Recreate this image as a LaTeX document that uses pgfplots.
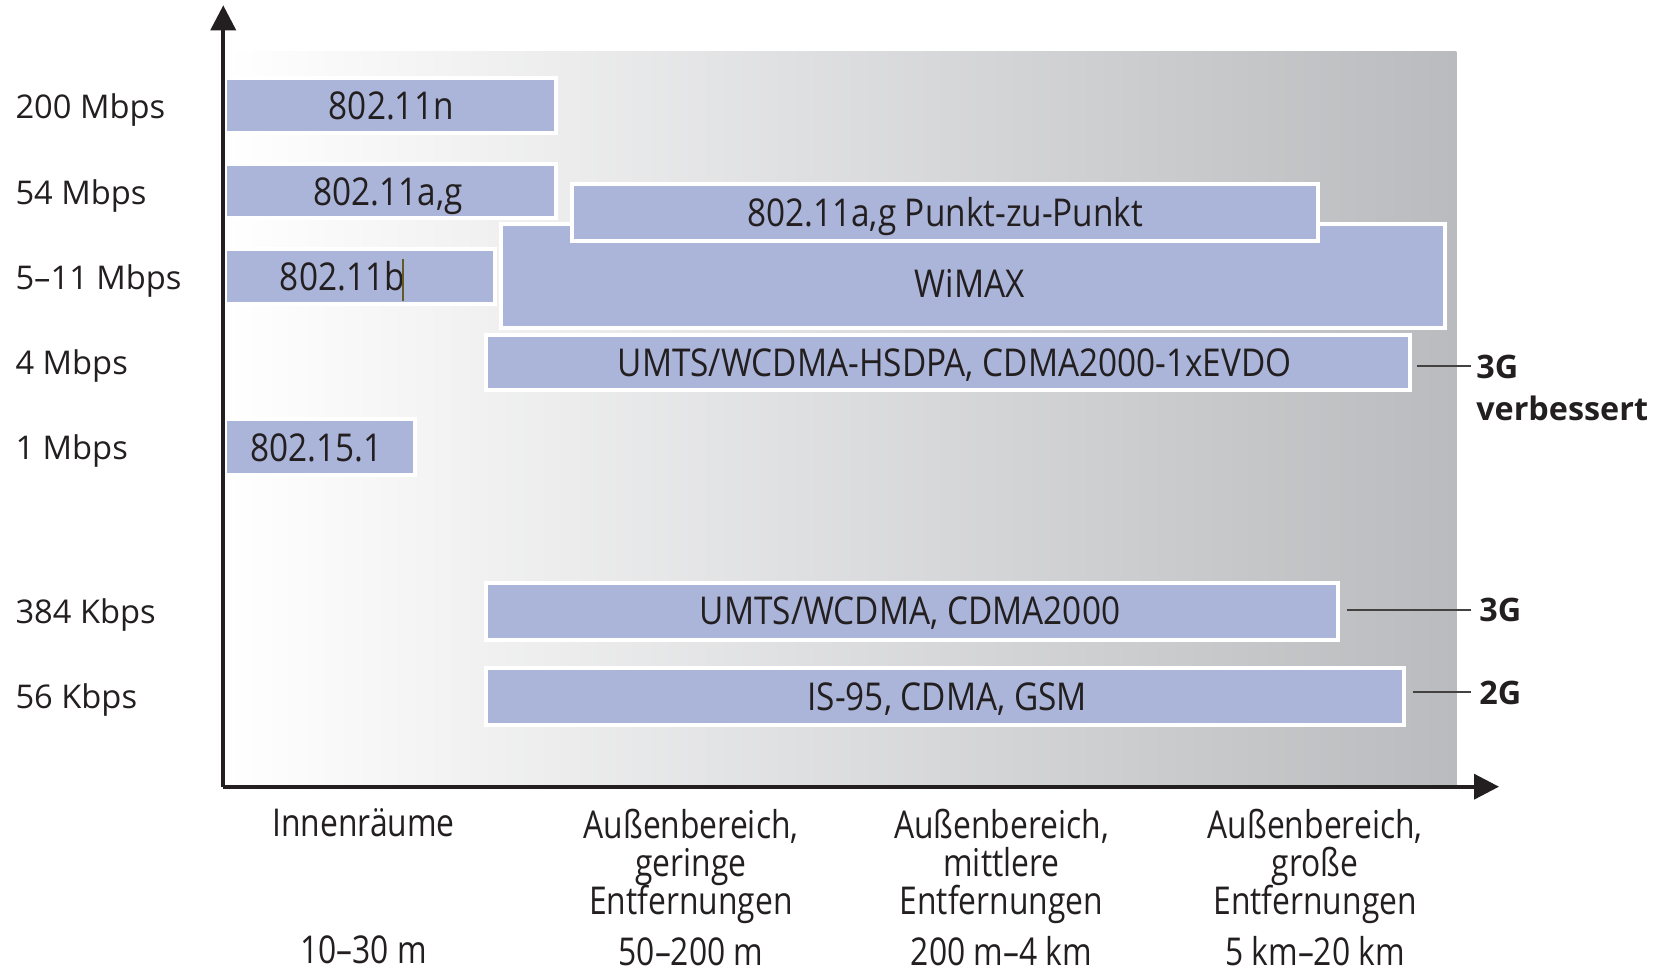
\documentclass[border=0pt]{standalone}
\usepackage{pgfplots}
\pgfplotsset{compat=1.18}
\usetikzlibrary{arrows.meta}
\usepackage{fontspec}
\setmainfont{Open Sans}
\newfontfamily\condfont[FakeStretch=0.87]{Open Sans}
\newfontfamily\xcondfont[FakeStretch=0.83]{Open Sans}
\definecolor{barblue}{RGB}{171,181,217}
\definecolor{bggray}{RGB}{186,187,190}
\definecolor{txt}{RGB}{35,31,32}
\newcommand\xlfont{\xcondfont\fontsize{11.5}{11.5}\selectfont\lineskiplimit=-20pt\relax\lineskip=0pt\relax}
\tikzset{
  barlab/.style={anchor=base, inner sep=0pt, font=\condfont\fontsize{11.5}{13}\selectfont, text=txt},
  glab/.style={anchor=base west, inner sep=0pt, font=\bfseries\fontsize{9.7}{12}\selectfont, text=txt},
}
\newcommand\bx[4]{\addplot[fill=barblue, draw=white, line width=1.2pt] coordinates {(#1,#3) (#2,#3) (#2,#4) (#1,#4)} -- cycle;}
\begin{document}
\begin{tikzpicture}
\begin{axis}[
  x=0.31888pt, y=0.31888pt,
  xmin=0, xmax=1200, ymin=0, ymax=735,
  axis lines=left,
  axis on top,
  axis line style={line width=1.1pt, color=txt, -{Triangle[length=7.5pt,width=7.5pt]}},
  clip=false,
  major tick length=0pt,
  xtick={132,440,732,1027},
  xticklabels={{Innenräume\\~\\~\\[3.6pt]10–30 m},
               {Außenbereich,\\geringe\\Entfernungen\\[3.6pt]50–200 m},
               {Außenbereich,\\mittlere\\Entfernungen\\[3.6pt]200 m–4 km},
               {Außenbereich,\\große\\Entfernungen\\[3.6pt]5 km–20 km}},
  ytick={85,165,319,399,479,559,640},
  yticklabels={56 Kbps, 384 Kbps, 1 Mbps, 4 Mbps, 5–11 Mbps, 54 Mbps, 200 Mbps},
  yticklabel style={anchor=west, inner sep=0pt, xshift=-62.5pt, yshift=-1pt, font=\fontsize{9.8}{11}\selectfont, text=txt},
  xticklabel style={anchor=north, inner sep=0pt, yshift=-6.4pt, align=center, font=\xlfont, text=txt},
]
% background gradient
\addplot[draw=none, left color=white, right color=bggray] coordinates {(2,0) (1160,0) (1160,692) (2,692)} -- cycle;

% bars: x1 x2 y1 y2
\bx{2}{313}{615}{667}     % 802.11n
\bx{2}{313}{535}{586}     % 802.11a,g
\bx{2}{256}{454}{506}     % 802.11b
\bx{261}{1149}{431}{529}  % WiMAX
\bx{328}{1030}{513}{567}  % 802.11a,g P2P
\bx{247}{1116}{373}{425}  % UMTS HSDPA
\bx{2}{180}{293}{346}     % 802.15.1
\bx{247}{1049}{138}{192}  % UMTS/WCDMA
\bx{247}{1111}{58}{112}   % IS-95

\node[barlab] at (axis cs:158,628) {802.11n};
\node[barlab] at (axis cs:155,547) {802.11a,g};
\node[barlab] at (axis cs:112,467) {802.11b};
\draw[line width=0.5pt, color={rgb,255:red,100;green,90;blue,40}] (axis cs:169,457) -- (axis cs:169,496);
\node[barlab] at (axis cs:679,527) {802.11a,g Punkt-zu-Punkt};
\node[barlab] at (axis cs:702,460) {WiMAX};
\node[barlab] at (axis cs:688,386) {UMTS/WCDMA-HSDPA, CDMA2000-1xEVDO};
\node[barlab] at (axis cs:88,306) {802.15.1};
\node[barlab] at (axis cs:646,153) {UMTS/WCDMA, CDMA2000};
\node[barlab] at (axis cs:681,72) {IS-95, CDMA, GSM};

% generation labels
\draw[line width=0.6pt, color=txt!85] (axis cs:1123,396) -- (axis cs:1174,396);
\draw[line width=0.6pt, color=txt!85] (axis cs:1057,166) -- (axis cs:1174,166);
\draw[line width=0.6pt, color=txt!85] (axis cs:1119,89) -- (axis cs:1174,89);
\node[glab] at (axis cs:1178,384) {3G};
\node[glab] at (axis cs:1178,344) {verbessert};
\node[glab] at (axis cs:1181,155) {3G};
\node[glab] at (axis cs:1181,77) {2G};

\coordinate (bbll) at (axis cs:-210,-171);
\coordinate (bbur) at (axis cs:1358,740);
\end{axis}
\pgfresetboundingbox
\path (bbll) rectangle (bbur);
\end{tikzpicture}
\end{document}
